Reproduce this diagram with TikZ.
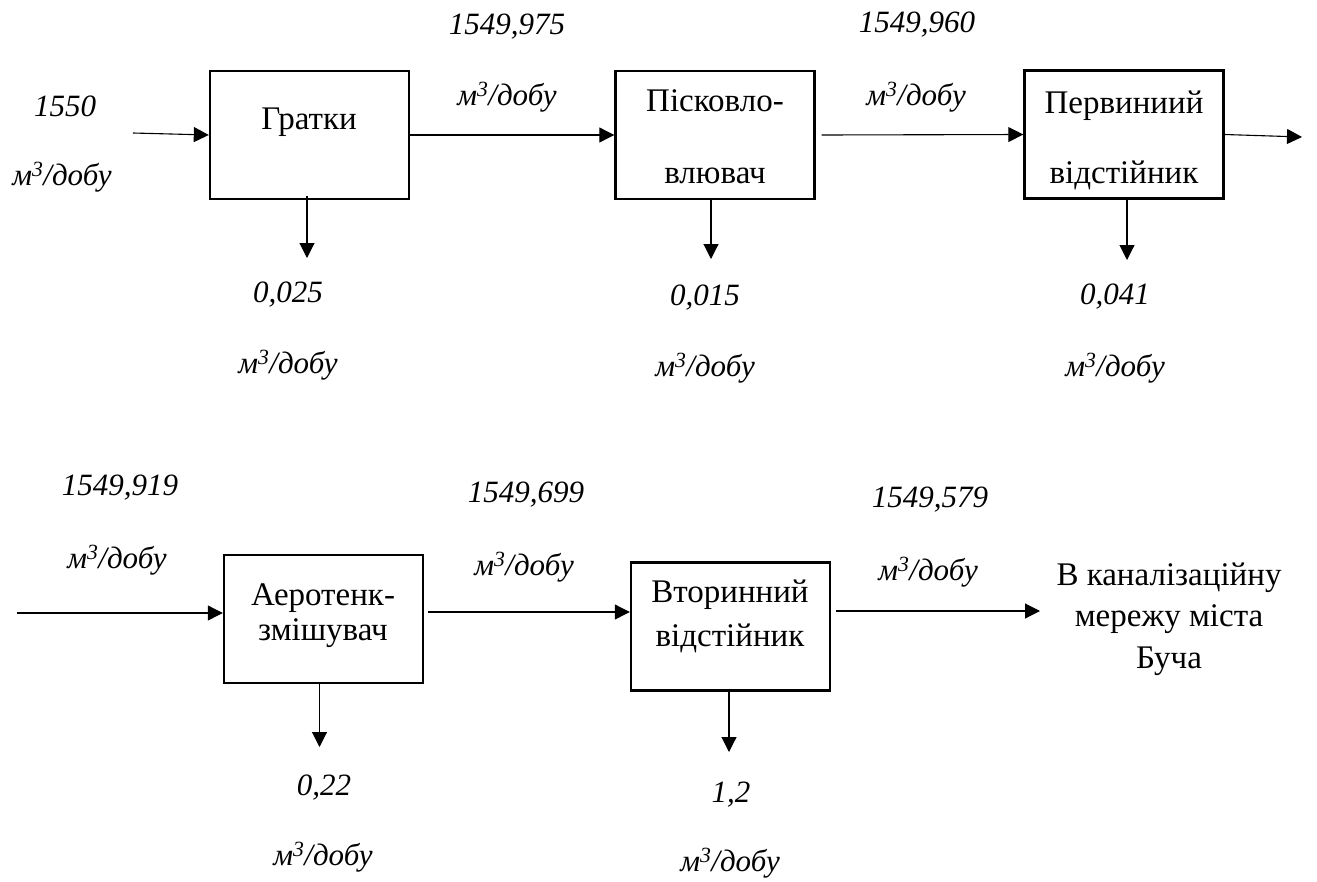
\documentclass[tikz,border=0pt]{standalone}
\usepackage{fontspec}
\setmainfont{Liberation Serif}
\usetikzlibrary{arrows.meta,calc}
\begin{document}
\begin{tikzpicture}[x=1pt,y=-1pt,
  box/.style={draw, line width=2.4pt, minimum width=199pt, minimum height=128pt, inner sep=0pt},
  flow/.style={line width=1.1pt, -{Triangle[length=15pt,width=15pt]}},
  lbl/.style={font=\fontsize{31}{37}\selectfont\itshape, inner sep=0pt},
  txt/.style={font=\fontsize{33}{40}\selectfont, align=center, inner sep=0pt}]
\useasboundingbox (0,0) rectangle (1317,881);
% boxes
\node[box] (g) at (309.5,135) {};
\node[box] (p) at (715,135) {};
\node[box] (v) at (1124,134.5) {};
\node[box] (a) at (323.5,619) {};
\node[box] (s) at (730.5,626.5) {};
% box texts
\node[txt] (gt) at (309,122) {Гратки};
\node[txt] (pt) at (715,137) {Пісковло-\\[32pt]влювач};
\node[txt] (vt) at (1124,140) {Первиниий\\[30pt]відстійник};
\node[txt] (at) at (323,615.5) {Аеротенк-\\[-5pt]змішувач};
\node[txt] (st) at (730,616) {Вторинний\\[4pt]відстійник};
\node[txt, font=\fontsize{33}{41.5}\selectfont] (dest) at (1169,619) {В каналізаційну\\мережу міста\\Буча};
% flow labels
\node[lbl] (l1a) at (65,106) {1550};
\node[lbl] (l1b) at (62,177) {м\textsuperscript{3}/добу};
\node[lbl] (l2a) at (507,27) {1549,975};
\node[lbl] (l2b) at (507,97) {м\textsuperscript{3}/добу};
\node[lbl] (l3a) at (917,25) {1549,960};
\node[lbl] (l3b) at (916,97) {м\textsuperscript{3}/добу};
\node[lbl] (d1a) at (288,295) {0,025};
\node[lbl] (d1b) at (288,365) {м\textsuperscript{3}/добу};
\node[lbl] (d2a) at (705,298) {0,015};
\node[lbl] (d2b) at (705,368) {м\textsuperscript{3}/добу};
\node[lbl] (d3a) at (1115,297) {0,041};
\node[lbl] (d3b) at (1115,368) {м\textsuperscript{3}/добу};
\node[lbl] (l4a) at (120,488) {1549,919};
\node[lbl] (l4b) at (117,560) {м\textsuperscript{3}/добу};
\node[lbl] (l5a) at (526,495) {1549,699};
\node[lbl] (l5b) at (524,567) {м\textsuperscript{3}/добу};
\node[lbl] (l6a) at (930,500) {1549,579};
\node[lbl] (l6b) at (928,572) {м\textsuperscript{3}/добу};
\node[lbl] (d4a) at (324,788) {0,22};
\node[lbl] (d4b) at (323,857) {м\textsuperscript{3}/добу};
\node[lbl] (d5a) at (731,795) {1,2};
\node[lbl] (d5b) at (730,863) {м\textsuperscript{3}/добу};
% connectors
\coordinate (in1) at (133,133);
\draw[flow] (in1) -- (g.west);
\draw[flow] (g.east) -- (p.west);
\draw[flow] ($(p.east)+(6,0)$) -- (v.west);
\coordinate (out1) at (1302,137);
\draw[flow] (v.east) -- (out1);
\coordinate (gd) at (307,258);
\draw[flow] ($(g.south)+(-2.5,-4)$) -- (gd);
\coordinate (pd) at (711,259);
\draw[flow] ($(p.south)+(-4,-2)$) -- (pd);
\coordinate (vd) at (1127,260);
\draw[flow] ($(v.south)+(3,0)$) -- (vd);
\coordinate (in2) at (17,613);
\draw[flow] (in2) -- (a.west |- in2);
\coordinate (as) at ($(a.east)+(4,-7)$);
\draw[flow] (as) -- (s.west |- as);
\coordinate (out2) at (1040,611);
\coordinate (so) at ($(s.east |- out2)+(5,0)$);
\draw[flow] (so) -- (out2);
\coordinate (ad) at (319.5,747);
\draw[flow] ($(a.south)+(-4,0)$) -- (ad);
\coordinate (sd) at (729,752);
\draw[flow] ($(s.south)+(-1.5,-3)$) -- (sd);
\end{tikzpicture}
\end{document}
